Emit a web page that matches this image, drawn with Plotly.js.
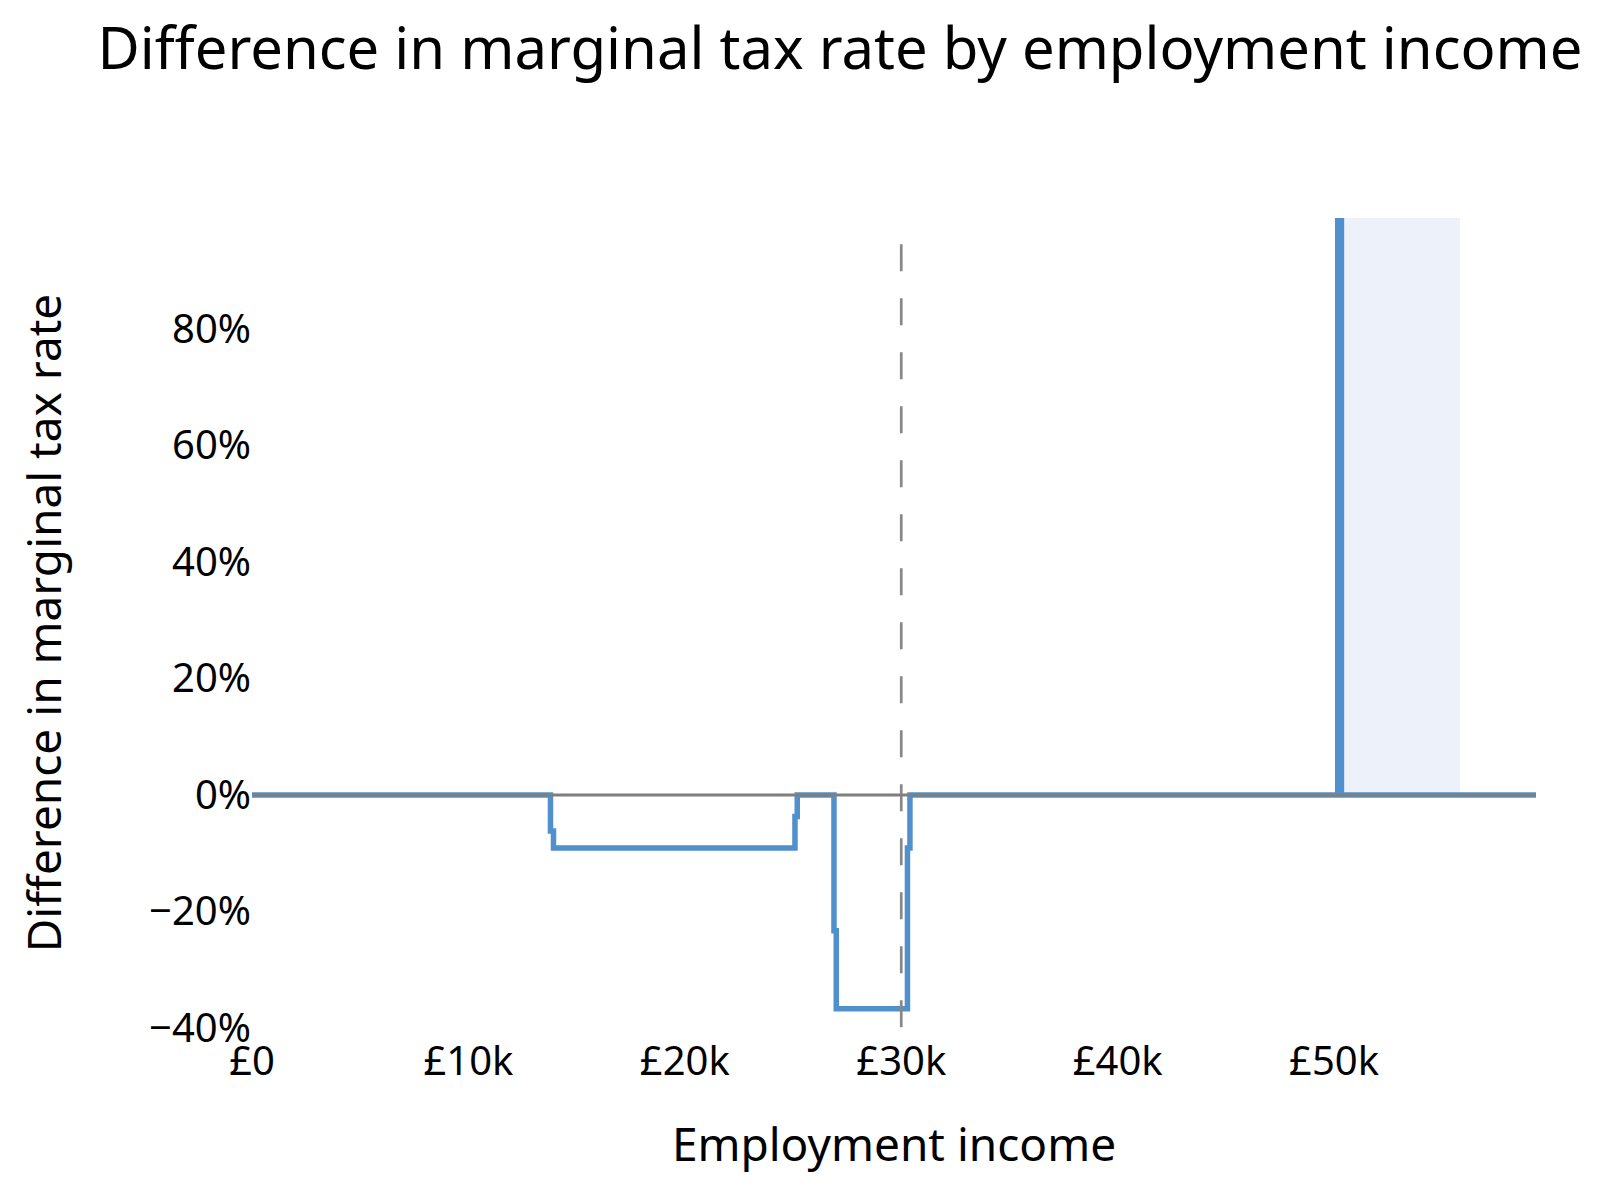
<!DOCTYPE html>
<html>
<head>
<meta charset="utf-8">
<script src="https://cdn.plot.ly/plotly-3.0.1.min.js"></script>
<style>
  body { margin: 0; background: #fff; }
  #chart { width: 1600px; height: 1188px; }
</style>
</head>
<body>
<div id="chart"></div>
<script>
// step points of the marginal tax rate difference (hv steps)
const income = [0, 13792, 13931, 25089, 25195, 26891, 26997, 30287, 30402, 50168, 50339, 59330];
const rateDiff = [0, -0.062, -0.091, -0.037, 0, -0.233, -0.367, -0.091, 0, 5, 0, 0];

// light band after the spike
const bandIncome = [50339, 55815];
const bandTop = [1, 1];

// dashed marker for current income
const refIncome = [30000, 30000];
const refRate = [0.945, -0.4];

const xTickVals = [0, 10000, 20000, 30000, 40000, 50000];
const xTickText = ['£0', '£10k', '£20k', '£30k', '£40k', '£50k'];
const yTickVals = [-0.4, -0.2, 0, 0.2, 0.4, 0.6, 0.8];

const font = 'Noto Sans, sans-serif';
const blue = '#5091cd';

const band = {
  x: bandIncome, y: bandTop,
  type: 'scatter', mode: 'lines',
  fill: 'tozeroy', fillcolor: '#edf2fa',
  line: {width: 0},
  hoverinfo: 'skip', showlegend: false
};

const mtr = {
  x: income, y: rateDiff,
  type: 'scatter', mode: 'lines',
  line: {color: blue, width: 5.5, shape: 'hv'},
  showlegend: false
};

const ref = {
  x: refIncome, y: refRate,
  type: 'scatter', mode: 'lines',
  line: {color: '#888888', width: 2.7, dash: '27px,27px'},
  hoverinfo: 'skip', showlegend: false
};

const layout = {
  width: 1600, height: 1188,
  margin: {l: 252, r: 64, t: 218, b: 160},
  paper_bgcolor: '#fff', plot_bgcolor: '#fff',
  font: {family: font, color: '#000', size: 40},
  title: {
    text: 'Difference in marginal tax rate by employment income',
    font: {family: font, size: 58, color: '#000'},
    x: 0.525, xanchor: 'center',
    y: 0.9588, yanchor: 'middle'
  },
  xaxis: {
    range: [0, 59330],
    tickvals: xTickVals, ticktext: xTickText,
    showgrid: false, zeroline: false, showline: false,
    tickfont: {size: 40},
    ticklabelstandoff: 6,
    title: {text: 'Employment income', font: {size: 46}, standoff: 42}
  },
  yaxis: {
    range: [-0.4, 0.99],
    tickvals: yTickVals, tickformat: '.0%',
    showgrid: false, zeroline: false, showline: false,
    tickfont: {size: 40},
    title: {text: 'Difference in marginal tax rate', font: {size: 46}, standoff: 73}
  },
  shapes: [{
    type: 'line', xref: 'paper', x0: 0, x1: 1, yref: 'y', y0: 0, y1: 0,
    line: {color: '#7f7f7f', width: 3}, layer: 'above'
  }]
};

Plotly.newPlot('chart', [band, mtr, ref], layout, {staticPlot: true});
</script>
</body>
</html>
